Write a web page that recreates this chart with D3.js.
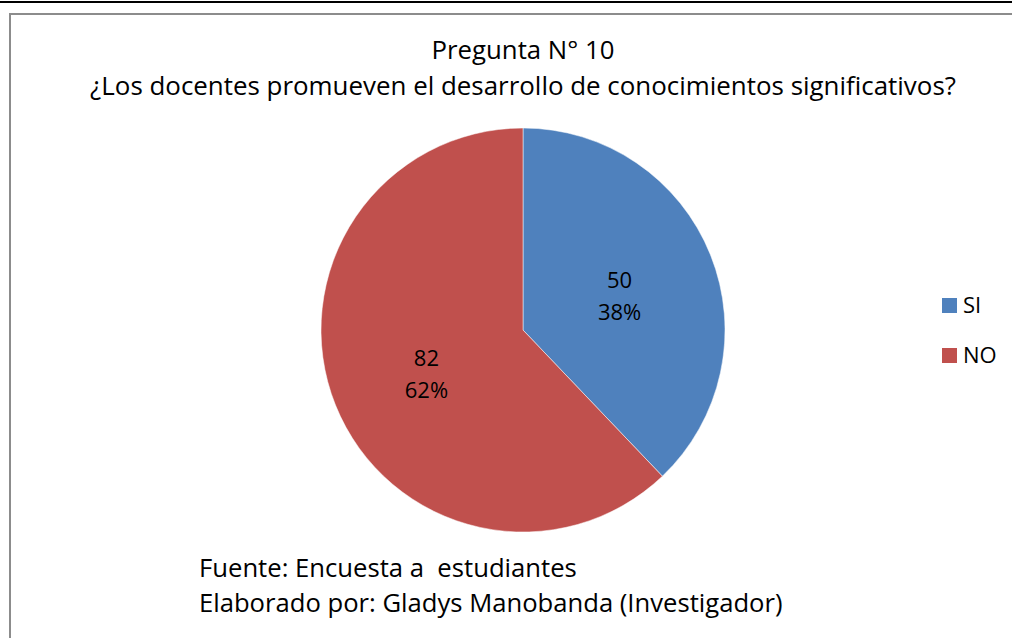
<!DOCTYPE html>
<html><head><meta charset="utf-8">
<script src="https://cdn.jsdelivr.net/npm/d3@7"></script>
<style>body{margin:0;background:#fff}svg{display:block}text{font-family:"Open Sans",sans-serif;fill:#000;white-space:pre}</style>
</head><body>
<svg id="c" width="1012" height="638"></svg>
<script>
const categories = ["SI", "NO"];
const values = [50, 82];
const percents = ["38%", "62%"];
const colors = ["#4F81BD", "#C0504D"];
const titleLines = ["Pregunta N° 10", "¿Los docentes promueven el desarrollo de conocimientos significativos?"];
const footerLines = ["Fuente: Encuesta a  estudiantes", "Elaborado por: Gladys Manobanda (Investigador)"];

const svg = d3.select("#c");
svg.append("rect").attr("x",0).attr("y",1).attr("width",1012).attr("height",2).attr("fill","#000");
svg.append("path").attr("d","M10,660 L10,14 L1020,14").attr("fill","none").attr("stroke","#8c8c8c").attr("stroke-width",2);

const cx = 523, cy = 330, r = 202;
const pie = d3.pie().sort(null).value(d=>d)(values);
const arc = d3.arc().innerRadius(0).outerRadius(r);
const g = svg.append("g").attr("transform",`translate(${cx},${cy})`);
g.selectAll("path").data(pie).join("path").attr("d",arc).attr("fill",(d,i)=>colors[i]).attr("stroke","#fff").attr("stroke-width",0.5);

const labelArc = d3.arc().innerRadius(r*0.515).outerRadius(r*0.515);
pie.forEach((d,i)=>{
  const [x,y] = labelArc.centroid(d);
  const t = g.append("text").attr("text-anchor","middle").attr("font-size",22);
  t.append("tspan").attr("x",x).attr("y",y-3).text(values[i]);
  t.append("tspan").attr("x",x).attr("y",y+29).text(percents[i]);
});

function fit(sel, w){ const L = sel.node().getComputedTextLength(); sel.attr("font-size", parseFloat(sel.attr("font-size"))*w/L); }

const t1 = svg.append("text").attr("x",523).attr("y",59).attr("text-anchor","middle").attr("font-size",22).text(titleLines[0]);
fit(t1, 183);
const t2 = svg.append("text").attr("x",523).attr("y",95).attr("text-anchor","middle").attr("font-size",22).text(titleLines[1]);
fit(t2, 866);

const f1 = svg.append("text").attr("x",199).attr("y",577).attr("font-size",22).text(footerLines[0]);
fit(f1, 378);
const f2 = svg.append("text").attr("x",199).attr("y",612).attr("font-size",22).text(footerLines[1]);
fit(f2, 584);

const leg = svg.append("g");
categories.forEach((c,i)=>{
  const y = 305 + i*50;
  leg.append("rect").attr("x",942).attr("y",y-7).attr("width",15).attr("height",15).attr("fill",colors[i]);
  leg.append("text").attr("x",963).attr("y",y+8).attr("font-size",22).text(c);
});
</script>
</body></html>
